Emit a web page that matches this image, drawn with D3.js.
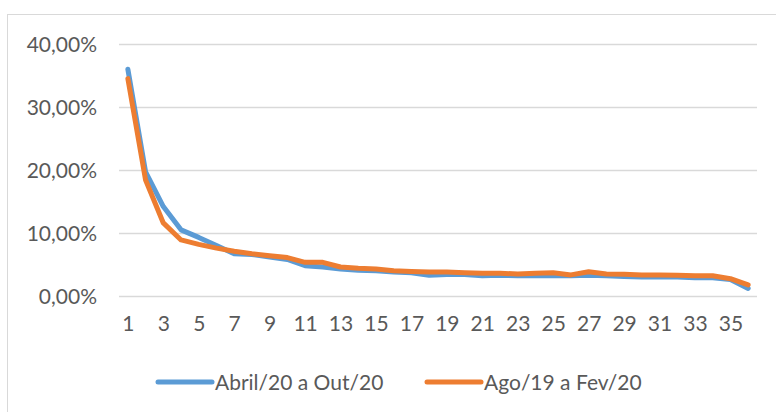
<!DOCTYPE html>
<html>
<head>
<meta charset="utf-8">
<script src="https://cdn.jsdelivr.net/npm/d3@7"></script>
<style>
  body { margin: 0; background: #fff; }
  text { font-family: Lato, "Open Sans", sans-serif; fill: #595959; }
</style>
</head>
<body>
<div id="chart"></div>
<script>
// categories 1..36 and share of each position (%)
const categories = ["1","2","3","4","5","6","7","8","9","10","11","12","13","14","15","16","17","18",
  "19","20","21","22","23","24","25","26","27","28","29","30","31","32","33","34","35","36"]
const abrilOut = [36.0, 19.7, 14.2, 10.5, 9.3, 8.0, 6.7, 6.6, 6.2, 5.8, 4.8, 4.6, 4.3, 4.1, 4.0, 3.8, 3.7, 3.3,
  3.4, 3.4, 3.2, 3.3, 3.2, 3.2, 3.2, 3.2, 3.3, 3.2, 3.1, 3.0, 3.0, 3.0, 2.9, 2.9, 2.6, 1.2]
const agoFev = [34.5, 18.4, 11.6, 8.9, 8.2, 7.6, 7.1, 6.7, 6.4, 6.1, 5.35, 5.35, 4.6, 4.4, 4.3, 4.0, 3.9, 3.8,
  3.8, 3.7, 3.6, 3.6, 3.5, 3.6, 3.7, 3.35, 3.85, 3.5, 3.45, 3.35, 3.35, 3.3, 3.2, 3.2, 2.75, 1.75]
const yTicks = [0, 10, 20, 30, 40]
const xTicks = categories.filter((d, i) => i % 2 === 0)
const seriesNames = ["Abril/20 a Out/20", "Ago/19 a Fev/20"]
const colors = ["#5B9BD5", "#ED7D31"]

const W = 776, H = 412
const svg = d3.select("#chart").append("svg")
  .attr("width", W).attr("height", H)

// outer chart frame (runs past the window on the right/bottom)
svg.append("rect")
  .attr("x", 7.5).attr("y", 14.5)
  .attr("width", 780).attr("height", 420)
  .attr("fill", "none").attr("stroke", "#D9D9D9")

const x = d3.scalePoint().domain(categories).range([119, 757]).padding(0.5)
const y = d3.scaleLinear().domain([0, 40]).range([296, 44])

const locale = d3.formatLocale({ decimal: ",", thousands: ".", grouping: [3], currency: ["", ""] })
const fmt = locale.format(".2f")

// gridlines
svg.append("g").selectAll("line")
  .data(yTicks).enter().append("line")
  .attr("x1", 119).attr("x2", 757)
  .attr("y1", d => Math.round(y(d)) + 0.5).attr("y2", d => Math.round(y(d)) + 0.5)
  .attr("stroke", "#D9D9D9").attr("stroke-width", 1.5)

// y labels
svg.append("g").selectAll("text")
  .data(yTicks).enter().append("text")
  .attr("x", 97).attr("y", d => y(d))
  .attr("dy", "0.36em")
  .attr("text-anchor", "end")
  .style("font-size", "21px")
  .text(d => fmt(d) + "%")

// x axis labels
const xAxis = svg.append("g")
  .attr("transform", "translate(0,316)")
  .call(d3.axisBottom(x).tickValues(xTicks).tickSize(0).tickPadding(0))
xAxis.select(".domain").remove()
xAxis.selectAll("text")
  .attr("dy", "0.71em")
  .style("font-size", "21px")
  .style("font-family", "Lato, sans-serif")
  .attr("fill", "#595959")

const line = d3.line()
  .x((d, i) => x(categories[i]))
  .y(d => y(d))

;[abrilOut, agoFev].forEach((s, k) => {
  svg.append("path")
    .datum(s)
    .attr("d", line)
    .attr("fill", "none")
    .attr("stroke", colors[k])
    .attr("stroke-width", 5)
    .attr("stroke-linejoin", "round")
    .attr("stroke-linecap", "round")
})

// legend
const legendX = [158, 427]
seriesNames.forEach((name, k) => {
  const g = svg.append("g").attr("transform", "translate(" + legendX[k] + ",382)")
  g.append("line")
    .attr("x1", 0).attr("x2", 54)
    .attr("stroke", colors[k]).attr("stroke-width", 5)
    .attr("stroke-linecap", "round")
  g.append("text")
    .attr("x", 57).attr("dy", "0.36em")
    .style("font-size", "21px")
    .text(name)
})
</script>
</body>
</html>
